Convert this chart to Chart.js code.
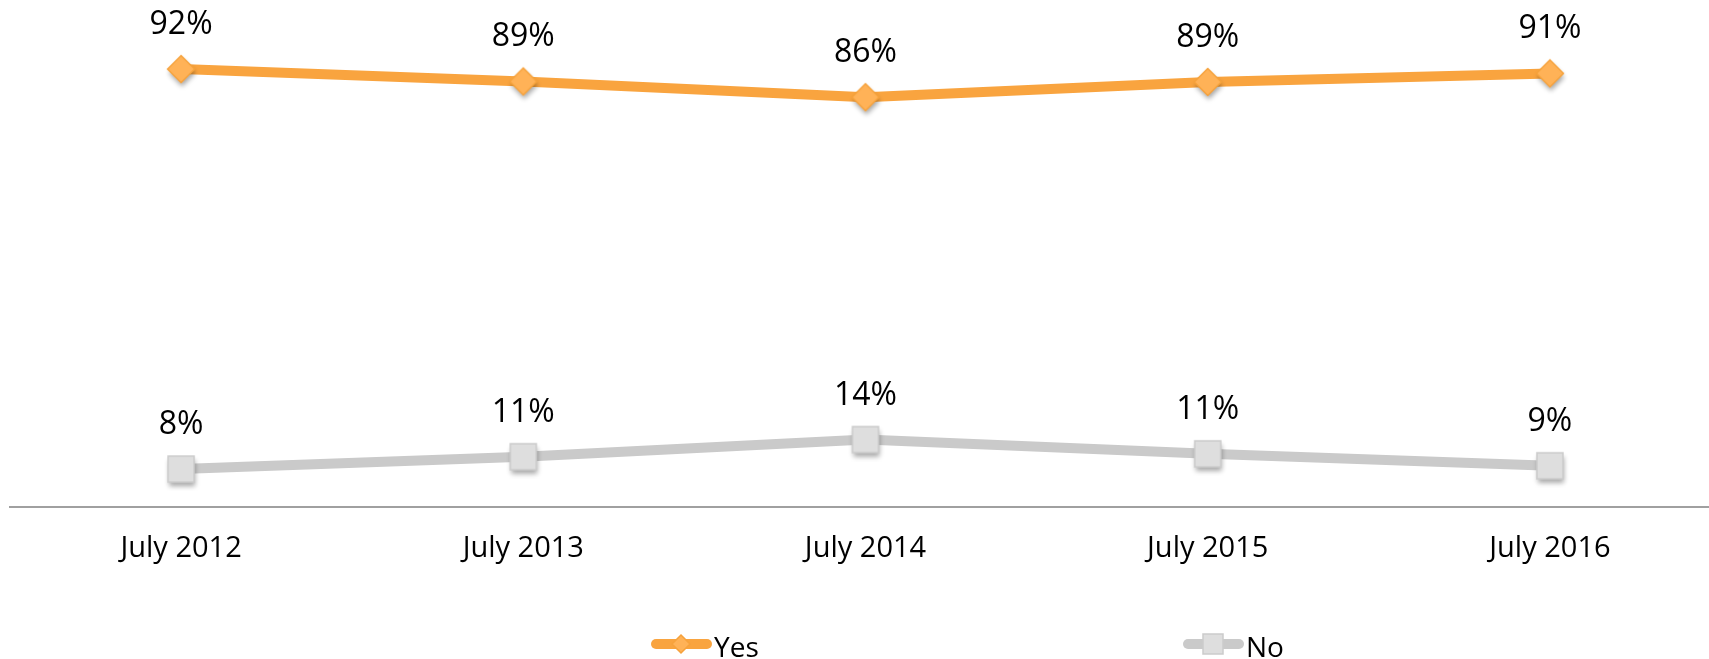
<!DOCTYPE html>
<html>
<head>
<meta charset="utf-8">
<script src="https://cdn.jsdelivr.net/npm/chart.js@4"></script>
<style>
  html, body { margin: 0; padding: 0; background: #fff; overflow: hidden; }
  #wrap { width: 1721px; height: 659px; }
</style>
</head>
<body>
<div id="wrap"><canvas id="chart"></canvas></div>
<script>
const categories = ["July 2012", "July 2013", "July 2014", "July 2015", "July 2016"];
const yesValues = [92, 89.4, 86.1, 89.3, 91.1];
const noValues = [8, 10.6, 14.2, 11.2, 8.7];

const orange = "#F9A43F";
const grey = "#CACACA";

// marker with a soft drop shadow, drawn once onto a small canvas
function makeMarker(shape, fill, stroke) {
  const c = document.createElement("canvas");
  c.width = 44;
  c.height = 44;
  const g = c.getContext("2d");
  g.shadowColor = "rgba(0,0,0,0.35)";
  g.shadowBlur = 5;
  g.shadowOffsetX = 1;
  g.shadowOffsetY = 4;
  g.fillStyle = fill;
  g.strokeStyle = stroke;
  g.lineWidth = 1.5;
  g.beginPath();
  if (shape === "diamond") {
    g.moveTo(22, 8.5);
    g.lineTo(35.5, 22);
    g.lineTo(22, 35.5);
    g.lineTo(8.5, 22);
    g.closePath();
  } else {
    g.rect(9, 9, 26, 26);
  }
  g.fill();
  g.shadowColor = "transparent";
  g.stroke();
  return c;
}

const diamond = makeMarker("diamond", "#FFB257", "#F6A23C");
const square = makeMarker("square", "#DEDEDE", "#CBCBCB");

const valueLabels = {
  id: "valueLabels",
  afterDatasetsDraw(chart) {
    const ctx = chart.ctx;
    ctx.save();
    ctx.font = "32px 'Open Sans'";
    ctx.fillStyle = "#000";
    ctx.textAlign = "center";
    ctx.textBaseline = "alphabetic";
    chart.data.datasets.forEach((ds, i) => {
      chart.getDatasetMeta(i).data.forEach((pt, j) => {
        ctx.fillText(Math.round(ds.data[j]) + "%", pt.x, pt.y - 35);
      });
    });
    ctx.restore();
  },
};

const legendRow = {
  id: "legendRow",
  afterDraw(chart) {
    const ctx = chart.ctx;
    const y = 644;
    const items = [
      { x: 651, label: "Yes", color: orange, shape: "diamond", fill: "#FFB257", stroke: "#F6A23C" },
      { x: 1183, label: "No", color: grey, shape: "square", fill: "#DEDEDE", stroke: "#CBCBCB" },
    ];
    ctx.save();
    items.forEach((it) => {
      ctx.strokeStyle = it.color;
      ctx.lineWidth = 10;
      ctx.lineCap = "round";
      ctx.beginPath();
      ctx.moveTo(it.x + 5, y);
      ctx.lineTo(it.x + 56, y);
      ctx.stroke();
      const cx = it.x + 30;
      ctx.fillStyle = it.fill;
      ctx.strokeStyle = it.stroke;
      ctx.lineWidth = 1.5;
      ctx.beginPath();
      if (it.shape === "diamond") {
        ctx.moveTo(cx, y - 9);
        ctx.lineTo(cx + 9, y);
        ctx.lineTo(cx, y + 9);
        ctx.lineTo(cx - 9, y);
        ctx.closePath();
      } else {
        ctx.rect(cx - 10, y - 10, 20, 20);
      }
      ctx.fill();
      ctx.stroke();
      ctx.fillStyle = "#000";
      ctx.font = "28px 'Open Sans'";
      ctx.textAlign = "left";
      ctx.textBaseline = "alphabetic";
      ctx.fillText(it.label, it.x + 63, y + 13);
    });
    ctx.restore();
  },
};

new Chart(document.getElementById("chart"), {
  type: "line",
  data: {
    labels: categories,
    datasets: [
      {
        label: "Yes",
        data: yesValues,
        borderColor: orange,
        borderWidth: 10,
        tension: 0,
        pointStyle: diamond,
        pointRadius: 14,
      },
      {
        label: "No",
        data: noValues,
        borderColor: grey,
        borderWidth: 10,
        tension: 0,
        pointStyle: square,
        pointRadius: 14,
      },
    ],
  },
  plugins: [valueLabels, legendRow],
  options: {
    responsive: true,
    maintainAspectRatio: false,
    animation: false,
    layout: { autoPadding: false, padding: { left: 10, right: 0, top: 31, bottom: 69 } },
    plugins: {
      legend: { display: false },
      tooltip: { enabled: false },
    },
    scales: {
      y: { display: false, min: 0, max: 100 },
      x: {
        offset: true,
        grid: { display: false, drawTicks: false, offset: true },
        border: { display: true, color: "#A0A0A0", width: 2 },
        ticks: {
          padding: 24,
          color: "#000",
          font: { family: "'Open Sans'", size: 29 },
        },
      },
    },
  },
});
</script>
</body>
</html>
